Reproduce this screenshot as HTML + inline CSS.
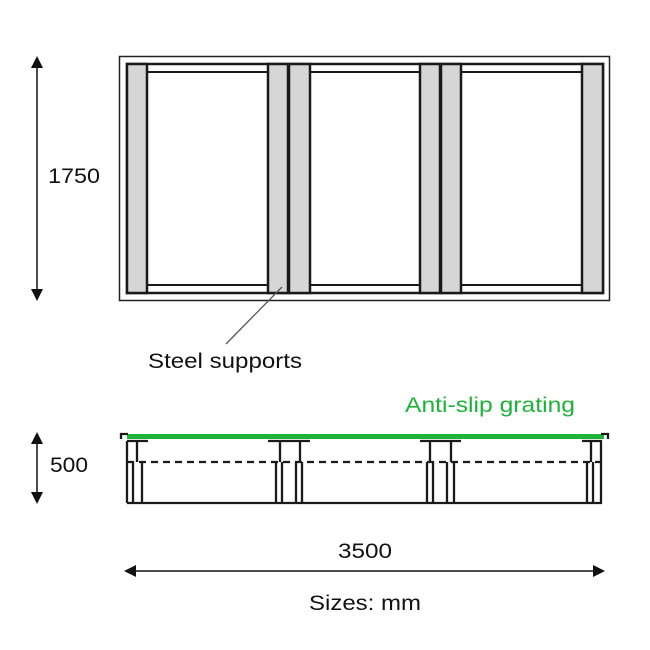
<!DOCTYPE html>
<html><head><style>html,body{margin:0;padding:0;background:#fff}svg{display:block}</style></head>
<body>
<svg width="650" height="650" viewBox="0 0 650 650" xmlns="http://www.w3.org/2000/svg" font-family="Liberation Sans, Arial, sans-serif">
<!-- top view -->
<rect x="119.5" y="56.5" width="490" height="244" fill="none" stroke="#222" stroke-width="1.5"/>
<rect x="127" y="64" width="476" height="229" fill="none" stroke="#1a1a1a" stroke-width="2.5"/>
<g stroke="#1a1a1a" stroke-width="2">
<line x1="147" y1="72" x2="268" y2="72"/><line x1="147" y1="285" x2="268" y2="285"/>
<line x1="310" y1="72" x2="420" y2="72"/><line x1="310" y1="285" x2="420" y2="285"/>
<line x1="461" y1="72" x2="582" y2="72"/><line x1="461" y1="285" x2="582" y2="285"/>
</g>
<g fill="#d6d6d6" stroke="#1a1a1a" stroke-width="2.5">
<rect x="127" y="64" width="20" height="229"/>
<rect x="268" y="64" width="20" height="229"/>
<rect x="289" y="64" width="21" height="229"/>
<rect x="420" y="64" width="20" height="229"/>
<rect x="441" y="64" width="20" height="229"/>
<rect x="582" y="64" width="21" height="229"/>
</g>
<line x1="282" y1="287" x2="226" y2="344" stroke="#555" stroke-width="1.3"/>
<text x="148" y="368" font-size="21" textLength="154" lengthAdjust="spacingAndGlyphs" fill="#111">Steel supports</text>
<!-- 1750 -->
<line x1="37" y1="62" x2="37" y2="295" stroke="#111" stroke-width="1.5"/>
<polygon points="37,56 31,68 43,68" fill="#111"/>
<polygon points="37,301 31,289 43,289" fill="#111"/>
<text x="48" y="183" font-size="21" textLength="52" lengthAdjust="spacingAndGlyphs" fill="#111">1750</text>
<!-- side view -->
<text x="405" y="412" font-size="21" textLength="170" lengthAdjust="spacingAndGlyphs" fill="#1db33a">Anti-slip grating</text>
<rect x="127" y="434" width="477" height="5" fill="#1db33a"/>
<g stroke="#1a1a1a" stroke-width="2.3" fill="none">
<polyline points="121,439 121,434 128,434"/>
<polyline points="608,439 608,434 601,434"/>
<line x1="127" y1="503" x2="602" y2="503"/>
<line x1="127" y1="441" x2="148" y2="441"/>
<line x1="268" y1="441" x2="310" y2="441"/>
<line x1="420" y1="441" x2="461" y2="441"/>
<line x1="582" y1="441" x2="602" y2="441"/>
<line x1="127" y1="441" x2="127" y2="503"/>
<line x1="137" y1="441" x2="137" y2="462"/>
<line x1="133" y1="462" x2="133" y2="503"/><line x1="142" y1="462" x2="142" y2="503"/>
<line x1="280" y1="441" x2="280" y2="462"/><line x1="300" y1="441" x2="300" y2="462"/>
<line x1="276" y1="462" x2="276" y2="503"/><line x1="282" y1="462" x2="282" y2="503"/>
<line x1="296" y1="462" x2="296" y2="503"/><line x1="302" y1="462" x2="302" y2="503"/>
<line x1="430" y1="441" x2="430" y2="462"/><line x1="451" y1="441" x2="451" y2="462"/>
<line x1="427" y1="462" x2="427" y2="503"/><line x1="433" y1="462" x2="433" y2="503"/>
<line x1="447" y1="462" x2="447" y2="503"/><line x1="454" y1="462" x2="454" y2="503"/>
<line x1="591" y1="441" x2="591" y2="462"/><line x1="601" y1="441" x2="601" y2="503"/>
<line x1="587" y1="462" x2="587" y2="503"/><line x1="593" y1="462" x2="593" y2="503"/>
<line x1="127" y1="462" x2="603" y2="462" stroke-dasharray="7,5"/>
</g>
<!-- 500 -->
<line x1="37" y1="438" x2="37" y2="498" stroke="#111" stroke-width="1.5"/>
<polygon points="37,432 31,444 43,444" fill="#111"/>
<polygon points="37,504 31,492 43,492" fill="#111"/>
<text x="50" y="472" font-size="21" textLength="38" lengthAdjust="spacingAndGlyphs" fill="#111">500</text>
<!-- 3500 -->
<line x1="130" y1="571" x2="600" y2="571" stroke="#111" stroke-width="1.5"/>
<polygon points="124,571 136,565 136,577" fill="#111"/>
<polygon points="605,571 593,565 593,577" fill="#111"/>
<text x="338" y="558" font-size="21" textLength="54" lengthAdjust="spacingAndGlyphs" fill="#111">3500</text>
<text x="309" y="610" font-size="21" textLength="112" lengthAdjust="spacingAndGlyphs" fill="#111">Sizes: mm</text>
</svg>
</body></html>
